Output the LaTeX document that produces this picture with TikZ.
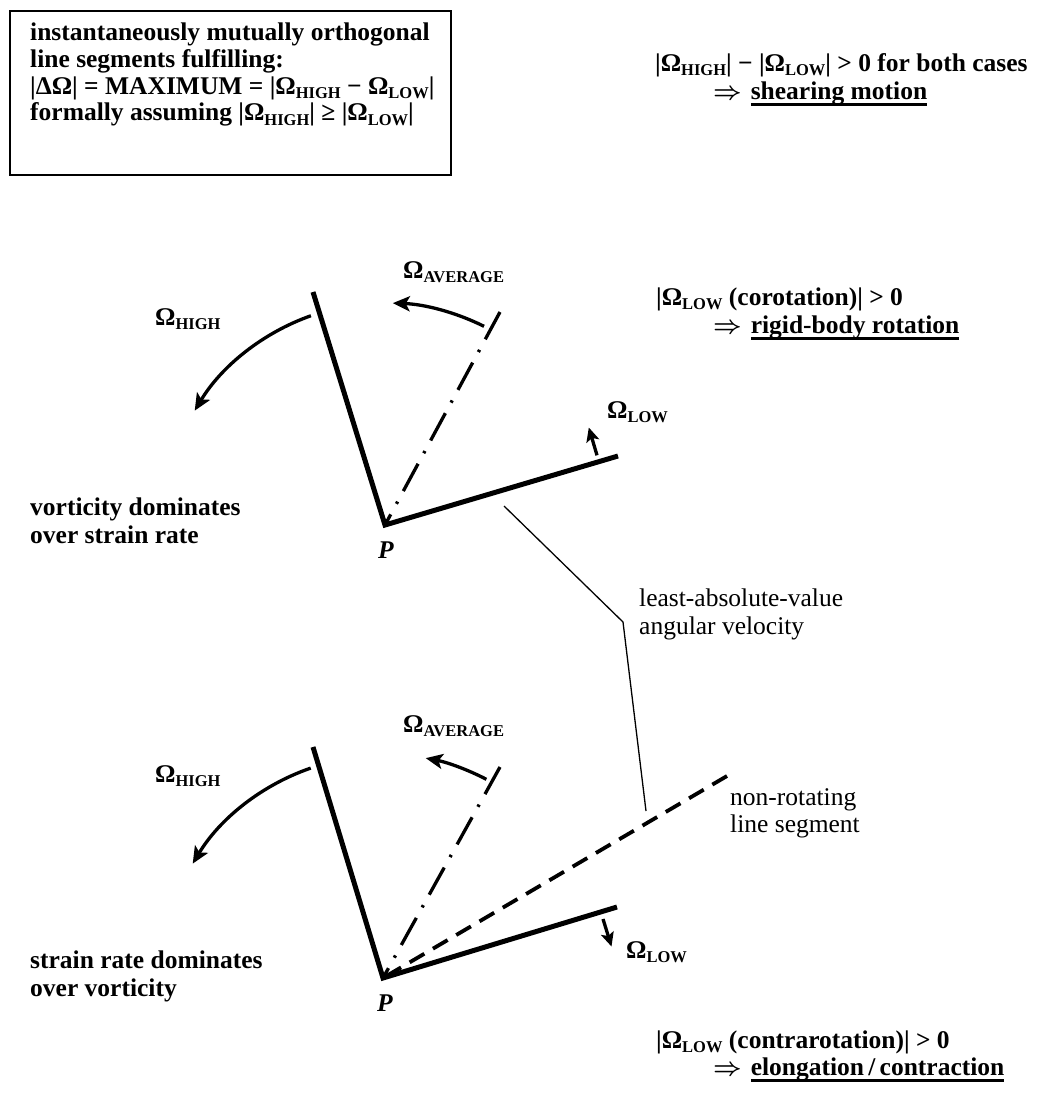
\documentclass[tikz,border=0pt]{standalone}
\usepackage{fontspec}
\setmainfont{Liberation Serif}
\usetikzlibrary{arrows.meta,calc}
\newcommand\sbs[1]{\raisebox{-4.5pt}{\fontsize{16.5}{16.5}\selectfont #1}}
\newcommand\Om[1]{Ω\sbs{#1}}
\newcommand\impl{{\boldmath$\Rightarrow$}\hspace{9pt}}
\newsavebox\ulbox
\newcommand\myul[1]{\sbox\ulbox{#1}\rlap{\rule[-6.5pt]{\wd\ulbox}{2.2pt}}\usebox\ulbox}
\begin{document}
\begin{tikzpicture}[x=1pt,y=-1pt,
  bt/.style={anchor=base west,inner sep=0pt,font=\fontsize{25.5}{28}\selectfont\bfseries},
  rt/.style={anchor=base west,inner sep=0pt,font=\fontsize{25.5}{28}\selectfont},
  pt/.style={anchor=base,inner sep=0pt,font=\fontsize{25.5}{28}\selectfont\bfseries\itshape},
  segline/.style={line width=5pt,line join=miter},
  rotarr/.style={line width=3.3pt,-{Stealth[length=17pt,width=15pt,inset=4pt]}},
  lowarr/.style={line width=3.3pt,-{Stealth[length=14pt,width=13pt,inset=3pt]}},
  avgline/.style={line width=3.3pt,dash pattern=on 31pt off 12pt on 2.5pt off 12pt},
  nonrot/.style={line width=3.8pt,dash pattern=on 17pt off 10pt},
  leader/.style={line width=1.3pt}]
\useasboundingbox (0,0) rectangle (1037,1095);

% ---------- box ----------
\node[draw,line width=2pt,anchor=north west,minimum width=441pt,minimum height=164pt,inner sep=0pt] (box) at (9,10) {};
\node[bt] (b1) at (30,40.5) {instantaneously mutually orthogonal};
\node[bt] (b2) at (30,67) {line segments fulfilling:};
\node[bt] (b3) at (30,94) {|ΔΩ| = MAXIMUM = |\Om{HIGH} − \Om{LOW}|};
\node[bt] (b4) at (30,120.5) {formally assuming |\Om{HIGH}| ≥ |\Om{LOW}|};

% ---------- right texts ----------
\node[bt] (s1) at (655,71) {|\Om{HIGH}| − |\Om{LOW}| > 0 for both cases};
\node[bt] (s2) at (713,99) {\impl\myul{shearing motion}};
\node[bt] (c1) at (656,305) {|\Om{LOW} (corotation)| > 0};
\node[bt] (c2) at (713,333) {\impl\myul{rigid-body rotation}};
\node[bt] (k1) at (656,1048) {|\Om{LOW} (contrarotation)| > 0};
\node[bt] (k2) at (713,1075) {\impl\myul{elongation\,/\,contraction}};

% ---------- upper diagram ----------
\coordinate (P1) at (385,525);
\coordinate (H1) at (313,292);
\coordinate (L1) at (618,456);
\coordinate (A1) at (500,312);
\draw[avgline] (A1) -- (P1);
\draw[segline] (H1) -- (P1) -- (L1);
\draw[rotarr] ($(P1)+(-109.5:222)$) arc[start angle=-109.5,end angle=-149,radius=222];
\draw[rotarr] ($(P1)+(-63.5:222)$) arc[start angle=-63.5,end angle=-88,radius=222];
\coordinate (LA1) at (597,455.3);
\coordinate (LB1) at (588.8,427.5);
\draw[lowarr] (LA1) -- (LB1);
\node[bt] (oh1) at (155,325) {\Om{HIGH}};
\node[bt] (oa1) at (403,278) {\Om{AVERAGE}};
\node[bt] (ol1) at (607,418) {\Om{LOW}};
\node[pt] (p1) at (386,558) {P};
\node[bt] (v1) at (30,515) {vorticity dominates};
\node[bt] (v2) at (30,543) {over strain rate};

% ---------- leader ----------
\coordinate (Q1) at (504,506);
\coordinate (Q2) at (623,622);
\coordinate (Q3) at (646,811);
\draw[leader] (Q1) -- (Q2) -- (Q3);
\node[rt] (la1) at (639,606) {least-absolute-value};
\node[rt] (la2) at (639,634) {angular velocity};

% ---------- lower diagram ----------
\coordinate (P2) at (383,978);
\coordinate (H2) at (313,747);
\coordinate (L2) at (617,907);
\coordinate (A2) at (500,767);
\coordinate (N2) at (727,776);
\draw[avgline] (A2) -- (P2);
\draw[nonrot] (N2) -- (P2);
\draw[segline] (H2) -- (P2) -- (L2);
\draw[rotarr] ($(P2)+(-109:222)$) arc[start angle=-109,end angle=-149,radius=222];
\draw[rotarr] ($(P2)+(-62.5:224)$) arc[start angle=-62.5,end angle=-79,radius=224];
\coordinate (LA2) at (603,919);
\coordinate (LB2) at (611.5,946.5);
\draw[lowarr] (LA2) -- (LB2);
\node[bt] (oh2) at (155,782) {\Om{HIGH}};
\node[bt] (oa2) at (403,732) {\Om{AVERAGE}};
\node[bt] (ol2) at (626,958) {\Om{LOW}};
\node[pt] (p2) at (385,1011) {P};
\node[bt] (w1) at (30,968) {strain rate dominates};
\node[bt] (w2) at (30,996) {over vorticity};
\node[rt] (nr1) at (730,805) {non-rotating};
\node[rt] (nr2) at (730,832) {line segment};
\end{tikzpicture}
\end{document}
